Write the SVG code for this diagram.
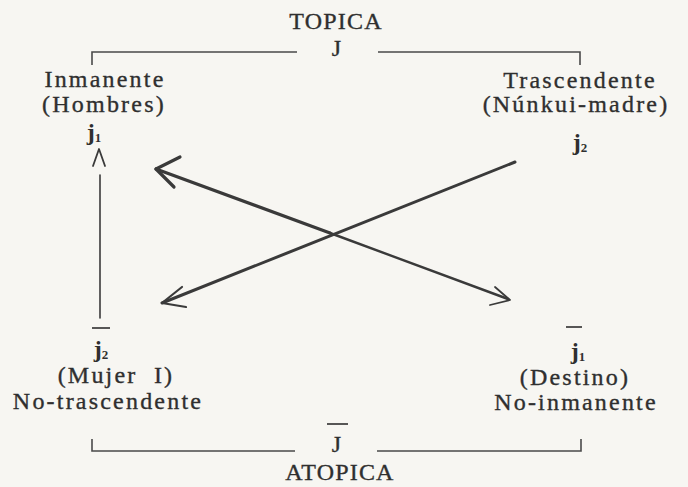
<svg xmlns="http://www.w3.org/2000/svg" width="688" height="487" viewBox="0 0 688 487">
<style>
.t{font-family:"Liberation Serif","Times New Roman",serif;font-size:24px;fill:#2f2f2f;stroke:#2f2f2f;stroke-width:0.35;text-anchor:middle;letter-spacing:2.2px}
.c{letter-spacing:1.2px}
.j{font-weight:bold;letter-spacing:0;stroke-width:0}
.s{font-size:13px}
.br{stroke:#4a4a4a;stroke-width:1.6;fill:none}
.ov{stroke:#444;stroke-width:1.8}
.ln{stroke:#3a3a3a;fill:none;stroke-linecap:round;stroke-linejoin:round}
</style>
<rect width="688" height="487" fill="#f7f6f2"/>
<g id="topica">
<text class="t c" x="336" y="29">TOPICA</text>
<text class="t c" x="337" y="56">J</text>
<path class="br" d="M92,65 V52 H297 M378,52 H580 V65"/>
</g>
<g id="inmanente">
<text class="t" x="105" y="87">Inmanente</text>
<text class="t" x="104" y="112">(Hombres)</text>
<text class="t j" x="94" y="140">j<tspan class="s" dy="2">1</tspan></text>
</g>
<g id="trascendente">
<text class="t" x="580" y="88">Trascendente</text>
<text class="t" x="576" y="112">(Núnkui-madre)</text>
<text class="t j" x="580" y="150">j<tspan class="s" dy="2">2</tspan></text>
</g>
<g id="mujer">
<line class="ov" x1="92" y1="328" x2="110" y2="328"/>
<text class="t j" x="101" y="357">j<tspan class="s" dy="2">2</tspan></text>
<text class="t" x="116" y="383">(Mujer&#160; I)</text>
<text class="t" x="108" y="409">No-trascendente</text>
</g>
<g id="destino">
<line class="ov" x1="566" y1="327" x2="582" y2="327"/>
<text class="t j" x="578" y="359">j<tspan class="s" dy="2">1</tspan></text>
<text class="t" x="575" y="385">(Destino)</text>
<text class="t" x="576" y="410">No-inmanente</text>
</g>
<g id="atopica">
<line class="ov" x1="327" y1="424" x2="348" y2="424"/>
<text class="t c" x="337" y="452">J</text>
<path class="br" d="M92,439 V451 H295 M377,451 H581 V439"/>
<text class="t c" x="340" y="480">ATOPICA</text>
</g>
<g id="connectors">
<path class="ln" stroke-width="1.6" d="M100,318 V175"/>
<path class="ln" stroke-width="1.8" d="M93,166 L99,149 L105,166"/>
<path class="ln" stroke-width="3" d="M515,162 L162,303"/>
<path class="ln" stroke-width="2.2" d="M182,287 L162,303 L186,307"/>
<path class="ln" stroke-width="3.2" d="M156,169 L330,233"/>
<path class="ln" stroke-width="2.4" d="M330,233 L508,299"/>
<path class="ln" stroke-width="3.2" d="M180,157 L156,169 L174,187"/>
<path class="ln" stroke-width="1.8" d="M495,287 L510,300 L490,305"/>
</g>
</svg>
